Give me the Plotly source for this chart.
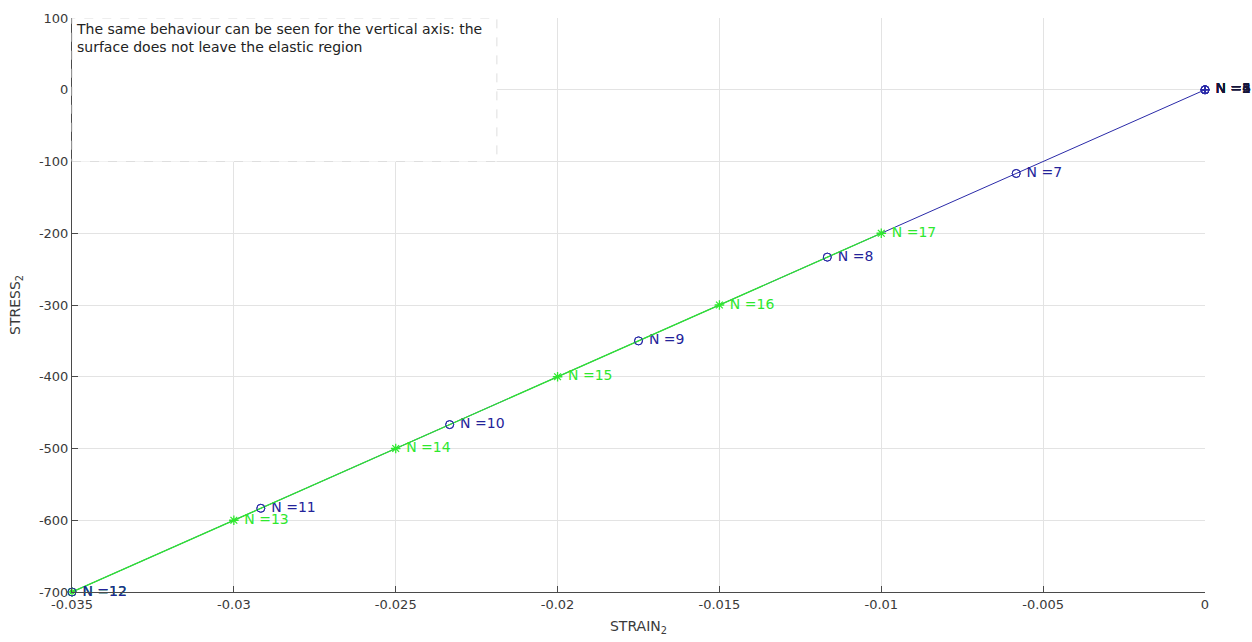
import plotly.graph_objects as go

# Data
blue_n = [1, 2, 3, 4, 5, 6, 7, 8, 9, 10, 11, 12]
blue_strain = [0, 0, 0, 0, 0, 0, -0.005833, -0.011667, -0.0175, -0.023333, -0.029167, -0.035]
blue_stress = [0, 0, 0, 0, 0, 0, -116.7, -233.3, -350.0, -466.7, -583.3, -700.0]

green_n = [12, 13, 14, 15, 16, 17]
green_strain = [-0.035, -0.03, -0.025, -0.02, -0.015, -0.01]
green_stress = [-700, -600, -500, -400, -300, -200]

x_ticks = [-0.035, -0.03, -0.025, -0.02, -0.015, -0.01, -0.005, 0]
x_ticklabels = ["-0.035", "-0.03", "-0.025", "-0.02", "-0.015", "-0.01", "-0.005", "0"]
y_ticks = [100, 0, -100, -200, -300, -400, -500, -600, -700]
y_ticklabels = ["100", "0", "-100", "-200", "-300", "-400", "-500", "-600", "-700"]

note = "The same behaviour can be seen for the vertical axis: the<br>surface does not leave the elastic region"

BLUE = "#2a2aa8"
BLUE_TXT = "#23239a"
DARK_TXT = "#15153a"
GREEN = "#2ee82e"
FONT = "DejaVu Sans"
LBL = 14

blue_symbols = ["circle-cross-open" if s == 0 else "circle-open" for s in blue_strain]
blue_txtcolors = [DARK_TXT if s == 0 else BLUE_TXT for s in blue_strain]

fig = go.Figure()

fig.add_trace(go.Scatter(
    x=blue_strain, y=blue_stress, mode="lines+markers+text",
    line=dict(color=BLUE, width=1),
    marker=dict(symbol=blue_symbols, size=8, color=BLUE, line=dict(width=1)),
    text=[" N =%d" % n for n in blue_n], textposition="middle right",
    textfont=dict(family=FONT, size=LBL, color=blue_txtcolors),
    cliponaxis=False, showlegend=False, hoverinfo="skip",
))

fig.add_trace(go.Scatter(
    x=green_strain, y=green_stress, mode="lines+markers+text",
    line=dict(color=GREEN, width=1.3),
    marker=dict(symbol="asterisk-open", size=8, color=GREEN, line=dict(width=1.3, color=GREEN)),
    text=[" N =%d" % n for n in green_n], textposition="middle right",
    textfont=dict(family=FONT, size=LBL, color=GREEN),
    cliponaxis=False, showlegend=False, hoverinfo="skip",
))

# Blue markers and the blue N=12 label redrawn on top (as in the reference)
fig.add_trace(go.Scatter(
    x=blue_strain[6:], y=blue_stress[6:], mode="markers+text",
    marker=dict(symbol="circle-open", size=8, color=BLUE, line=dict(width=1)),
    text=["" for n in blue_n[6:-1]] + [" N =%d" % blue_n[-1]], textposition="middle right",
    textfont=dict(family=FONT, size=LBL, color=BLUE_TXT),
    cliponaxis=False, showlegend=False, hoverinfo="skip",
))

axis_common = dict(
    showgrid=True, gridcolor="#e3e3e3", gridwidth=1,
    showline=True, linecolor="#4a4a4a", linewidth=1,
    ticks="inside", ticklen=6, tickcolor="#4a4a4a",
    tickfont=dict(family=FONT, size=13, color="#3a3a3a"),
    zeroline=False,
)

fig.update_layout(
    width=1252, height=642,
    paper_bgcolor="white", plot_bgcolor="white",
    margin=dict(l=72, r=47, t=11, b=48),
    font=dict(family=FONT),
    xaxis=dict(range=[-0.035, 0], tickvals=x_ticks, ticktext=x_ticklabels,
               title=dict(text="STRAIN<sub>2</sub>", font=dict(family=FONT, size=14, color="#3a3a3a"), standoff=10),
               **axis_common),
    yaxis=dict(range=[-700, 100], tickvals=y_ticks, ticktext=y_ticklabels,
               title=dict(text="STRESS<sub>2</sub>", font=dict(family=FONT, size=14, color="#3a3a3a"), standoff=14),
               **axis_common),
)

# Note box
fig.add_shape(type="rect", xref="paper", yref="y", x0=0, x1=0.375, y0=-100, y1=100,
              fillcolor="white", line=dict(color="#dedede", width=1, dash="dash"), layer="above")
fig.add_annotation(xref="paper", yref="paper", x=0.002, y=0.999, xanchor="left", yanchor="top",
                   text=note, showarrow=False, align="left",
                   font=dict(family=FONT, size=14, color="#222222"))

fig.write_html("out.html", config={"displayModeBar": False},
               post_script="document.body.style.margin='0';document.body.style.overflow='hidden';")
